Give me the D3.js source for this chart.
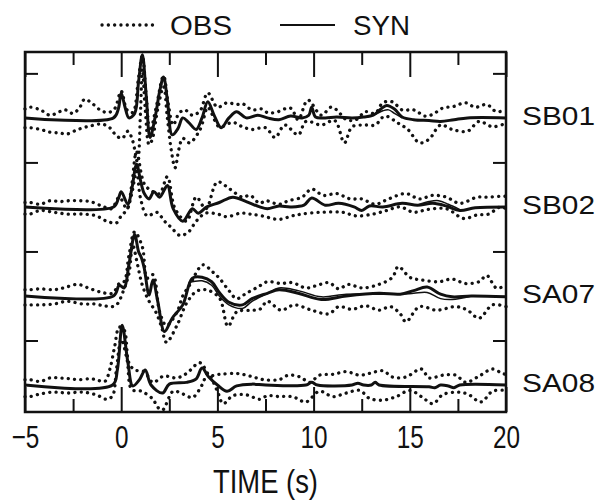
<!DOCTYPE html>
<meta charset="utf-8">
<title>OBS vs SYN waveforms</title>
<script src="https://d3js.org/d3.v7.min.js"></script>
<style>
  body { margin: 0; background: #fff; }
  text { font-family: "Liberation Sans", Arial, Helvetica, sans-serif; fill: #111; }
  .frame { fill: none; stroke: #111; stroke-width: 2.5; }
  .tick line { stroke: #111; stroke-width: 2; }
  .syn { fill: none; stroke: #111; stroke-width: 3; stroke-linejoin: round; }
  .alt { fill: none; stroke: #111; stroke-width: 1.5; }
  .obs { fill: none; stroke: #111; stroke-width: 3.3; stroke-linecap: round; stroke-dasharray: 0.1 6.2; }
</style>
<body>
<svg width="596" height="500"></svg>
<script>
// stations, top to bottom, and their trace offsets (10 units apart)
var stations = ["SB01", "SB02", "SA07", "SA08"];
var offsets = [30, 20, 10, 0];

var xMajor = [-5, 0, 5, 10, 15, 20];
var xMinor = [-2.5, 2.5, 7.5, 12.5, 17.5];
var yTicks = [5, 15, 25, 35];

// [time (s), amplitude] pairs
var sb01Syn = [[-5,0],[-0.4,0],[-0.15,1.0],[0,2.8],[0.2,1.2],[0.4,0],[0.7,0.5],[0.9,4.0],[1.1,7.1],[1.3,2.5],[1.5,-2.2],[1.8,0.5],[2.0,3.0],[2.2,4.6],[2.4,2.0],[2.65,-1.9],[2.95,-1.2],[3.2,0],[3.5,-0.5],[3.9,-1.3],[4.2,0],[4.5,1.8],[4.85,0.2],[5.2,-1.1],[5.6,0],[6.0,0.7],[6.5,0],[7.1,0.3],[7.6,0],[8.2,-0.2],[8.8,0.2],[9.4,0],[9.75,0.3],[9.9,1.2],[10.1,0.1],[10.6,0],[11.2,0.1],[12,0],[12.6,0.1],[13.1,0.3],[13.5,1.0],[13.8,1.4],[14.2,1.0],[14.6,0.1],[15.2,-0.2],[16.0,-0.3],[16.6,-0.4],[17.3,-0.2],[18.0,0],[20,0]];
var sb01Alt = [[12.8,0.1],[13.2,0.4],[13.6,0.8],[13.9,0.9],[14.2,0.5],[14.6,0]];
var sb01ObsHi = [[-5,1.0],[-4.75,1.2],[-4.2,0.9],[-3.7,0.3],[-3.2,0.7],[-2.9,0.9],[-2.5,0.5],[-2.15,1.2],[-1.9,2.1],[-1.5,1.6],[-1.1,0.9],[-0.7,0.6],[-0.35,1.0],[0,3.0],[0.3,0.9],[0.6,0.6],[0.9,4.5],[1.1,7.0],[1.3,2.5],[1.5,-1.5],[1.8,1.0],[2.2,4.7],[2.45,1.5],[2.7,-0.8],[3.0,0.5],[3.3,0.9],[3.7,0.3],[4.1,0.8],[4.5,2.8],[5.0,1.2],[5.5,1.7],[6.0,1.5],[6.3,1.6],[6.8,0.9],[7.3,1.0],[7.6,0.6],[8.0,0.6],[8.8,1.1],[9.2,-0.2],[9.7,2.0],[10.4,0.3],[10.9,1.2],[11.2,0.9],[11.7,-0.2],[12.2,-0.2],[12.7,0.7],[13.2,0.5],[13.6,1.7],[14.1,1.8],[14.6,0.9],[15.2,0.9],[15.8,0.2],[16.2,0.4],[16.7,1.1],[17.3,1.3],[17.9,1.7],[18.4,1.2],[19.0,1.5],[19.5,0.7],[20,0.9]];
var sb01ObsLo = [[-5,-1.1],[-4.75,-1.1],[-4.2,-1.3],[-3.7,-1.6],[-3.2,-1.7],[-2.8,-1.8],[-2.25,-1.3],[-1.6,-0.9],[-1.0,-0.7],[-0.6,-1.1],[-0.25,-2.0],[0.05,-2.3],[0.35,-1.5],[0.6,-2.6],[0.85,-5.0],[1.0,0.5],[1.1,5.5],[1.25,1.0],[1.45,-3.0],[1.6,-2.5],[1.9,1.0],[2.2,3.5],[2.4,0],[2.6,-3.6],[2.8,-5.6],[3.0,-3.5],[3.2,-2.3],[3.55,-2.8],[4.1,-1.3],[4.5,1.2],[4.7,0.5],[5.1,-1.0],[5.8,-0.5],[6.3,-1.0],[6.8,-1.3],[7.5,-1.1],[8.0,-2.2],[8.5,-0.8],[9.2,-1.9],[9.6,-0.4],[10.4,-0.8],[11.1,-0.3],[11.6,-2.8],[12.0,-1.0],[12.7,-0.8],[13.2,-0.8],[13.7,0.2],[14.4,-0.6],[14.9,-1.3],[15.5,-2.8],[16.0,-2.4],[16.6,-0.8],[17.2,-1.3],[18.0,-1.5],[18.6,-0.4],[19.3,-1.0],[20,-0.6]];

var sb02Syn = [[-5,0],[-0.4,0],[-0.15,0.9],[0,1.7],[0.35,0.3],[0.55,2.0],[0.8,4.8],[1.0,3.0],[1.2,1.5],[1.45,0.9],[1.7,1.7],[2.0,1.1],[2.4,2.4],[2.7,-0.2],[3.2,-1.6],[3.7,-0.2],[4.0,-0.7],[4.45,0],[5.1,0.5],[5.8,1.1],[6.5,0.6],[7.2,0],[7.6,-0.2],[8.2,0.1],[8.8,0],[9.5,0.2],[9.9,1.0],[10.6,0.2],[11.3,0.4],[12.1,0],[12.5,-0.4],[12.9,0.1],[13.6,0],[14.6,0.4],[15.4,0.2],[16.2,0.4],[16.9,0.1],[17.6,-0.4],[18.4,-0.1],[20,0]];
var sb02Alt = [[15.4,0.2],[16.0,0.6],[16.5,0.7],[17.0,0.3],[17.6,-0.3]];
var sb02ObsHi = [[-5,0.5],[-4.75,0.5],[-4.2,0.3],[-3.7,0.7],[-3.2,0.6],[-2.7,0.7],[-2.2,0.7],[-1.6,0.6],[-1.0,0.1],[-0.5,-0.2],[-0.1,1.1],[0.3,-0.2],[0.55,2.5],[0.8,6.2],[1.2,2.6],[1.65,1.7],[2.0,1.5],[2.4,3.4],[2.8,-0.2],[3.4,-1.6],[3.9,1.1],[4.4,-0.2],[5.0,2.8],[5.65,2.0],[6.3,1.1],[6.7,1.3],[7.2,0.4],[7.5,0.7],[8.2,0.3],[8.7,0.7],[9.4,1.1],[9.9,2.0],[10.5,1.3],[11.2,1.5],[11.9,0.9],[12.5,0.9],[13.2,0.3],[13.9,0.9],[14.8,1.5],[15.5,0.9],[16.2,1.3],[16.9,1.1],[17.6,0.4],[18.5,1.1],[19.1,1.1],[19.7,1.2],[20,1.2]];
var sb02ObsLo = [[-5,-0.8],[-4.75,-0.8],[-4.2,-0.4],[-3.5,-0.6],[-2.8,-0.8],[-2.0,-0.8],[-1.3,-1.0],[-0.75,-1.6],[-0.25,-1.8],[0,-1.0],[0.3,-0.3],[0.55,1.5],[0.8,4.0],[1.0,1.0],[1.35,-1.0],[1.85,-0.6],[2.25,-1.6],[2.6,-2.3],[3.05,-3.2],[3.5,-2.8],[3.9,-1.6],[4.4,-0.7],[5.0,-0.8],[5.5,-1.1],[6.2,-0.7],[6.7,-0.8],[7.3,-1.0],[8.2,-1.4],[8.9,-1.0],[9.4,-0.8],[10.4,-0.6],[11.5,-0.6],[12.2,-1.0],[13.1,-0.8],[13.8,-0.4],[14.5,0],[15.2,-0.6],[15.9,-0.3],[16.9,-0.2],[17.8,-1.3],[18.5,-0.9],[19.1,-0.8],[19.7,0],[20,-0.2]];

var sa07Syn = [[-5,0],[-0.4,0],[-0.1,1.2],[0.15,0.9],[0.4,3.5],[0.7,6.9],[0.9,5.0],[1.05,4.3],[1.2,3.1],[1.45,0.1],[1.65,1.8],[1.9,-0.6],[2.25,-4.0],[2.65,-2.5],[3.2,-1.0],[3.7,2.0],[4.2,2.1],[4.7,1.6],[5.1,0.4],[5.6,-0.7],[6.3,-1.0],[6.8,-0.3],[7.6,0.3],[8.2,0.7],[9.2,0.3],[10.4,-0.4],[11.7,0],[13.4,0.3],[14.5,0.2],[15.2,0.6],[15.9,1.0],[16.6,0.2],[17.2,-0.1],[18.2,0],[20,-0.1]];
var sa07Alt = [[3.5,1.5],[4.2,1.7],[4.7,1.2],[5.1,0.0],[5.6,-1.0],[6.3,-1.4],[6.8,-0.6],[7.6,0.3],[8.2,0.9],[9.2,0.6],[10.4,-0.1],[11.7,0.2],[13.4,0.2],[14.5,0.2],[15.2,0.3],[15.9,0.4],[16.6,-0.3],[17.2,-0.4],[18.2,0]];
var sa07ObsHi = [[-5,0.7],[-4.75,0.7],[-4.2,0.8],[-3.5,0.7],[-3.0,0.9],[-2.25,1.3],[-1.6,0.8],[-1.0,0.4],[-0.45,0.3],[-0.1,1.4],[0.15,1.6],[0.4,4.5],[0.7,7.2],[1.1,5.5],[1.35,2.0],[1.65,2.4],[2.0,-1.8],[2.35,-3.3],[2.9,-1.8],[3.2,0],[3.55,1.2],[4.25,3.5],[4.75,2.7],[5.1,2.0],[5.6,0.6],[6.0,-0.3],[6.5,0.3],[7.1,1.0],[7.6,1.6],[8.3,1.4],[8.9,1.5],[9.6,0.9],[10.2,1.2],[10.8,1.5],[11.3,0.8],[11.8,1.3],[12.5,0.9],[13.4,1.3],[14.1,2.1],[14.4,3.3],[15.0,2.1],[15.6,1.8],[16.5,1.6],[17.2,1.9],[17.9,1.4],[18.6,1.6],[19.0,2.3],[19.5,0.9],[20,1.2]];
var sa07ObsLo = [[-5,-1.0],[-4.75,-1.0],[-4.2,-1.0],[-3.5,-0.9],[-2.8,-0.6],[-2.0,-0.9],[-1.4,-0.9],[-0.9,-1.1],[-0.45,-1.2],[-0.2,-0.9],[0.1,0.5],[0.4,2.5],[0.6,5.7],[0.85,3.5],[1.1,1.2],[1.45,-0.6],[1.8,-1.8],[2.1,-3.5],[2.35,-5.2],[2.9,-3.3],[3.4,-0.8],[3.9,0.5],[4.4,0.7],[5.1,-0.2],[5.55,-3.4],[6.0,-1.8],[6.7,-1.6],[7.2,-1.5],[7.6,-0.6],[8.3,-1.6],[9.0,-1.0],[9.9,-1.6],[10.8,-2.0],[11.3,-1.2],[12.0,-1.5],[12.7,-1.1],[13.4,-1.6],[14.0,-1.2],[14.5,-2.0],[14.8,-2.9],[15.5,-1.2],[16.4,-1.6],[17.4,-1.2],[18.0,-1.6],[18.6,-2.5],[19.3,-1.0],[20,-1.2]];

var sa08Syn = [[-5,0],[-0.45,0],[-0.2,1.7],[0.05,6.7],[0.35,2.5],[0.6,-0.1],[0.95,0.6],[1.25,1.7],[1.55,0],[2.15,-0.9],[2.5,0.1],[3.4,0.3],[3.9,0.7],[4.2,1.9],[4.55,0.9],[5.0,0],[5.5,-0.7],[6.0,-0.1],[6.8,0.1],[7.5,0],[9.6,0],[9.9,0.3],[10.2,0],[12.0,0],[12.3,0.2],[12.6,0],[13.0,0],[13.2,0.3],[13.4,0],[16.0,-0.2],[16.3,-0.3],[16.6,0],[17.0,-0.1],[17.3,-0.3],[17.6,0],[20,0]];
var sa08Alt = [];
var sa08ObsHi = [[-5,0.6],[-4.75,0.6],[-4.2,0.4],[-3.7,0.8],[-3.2,0.8],[-2.7,0.7],[-2.2,0.6],[-1.6,0.7],[-1.3,0.6],[-0.85,0.4],[-0.6,1.7],[-0.35,4.2],[-0.1,6.5],[0.15,6.2],[0.4,2.5],[0.7,1.7],[1.2,1.5],[1.65,0.3],[2.2,1.0],[2.9,0.8],[3.4,1.3],[4.1,2.5],[4.6,1.1],[5.1,1.2],[6.0,1.3],[6.7,1.0],[7.4,0.6],[8.2,0.6],[8.7,1.1],[9.3,0.9],[9.8,0.3],[10.3,1.1],[11.0,1.2],[11.7,1.5],[12.4,1.1],[12.9,1.3],[13.6,1.6],[14.1,0.9],[14.8,0.9],[15.6,1.8],[16.0,0.8],[16.7,1.1],[17.4,1.1],[17.9,0.3],[18.6,1.0],[19.3,1.8],[19.8,1.3],[20,1.2]];
var sa08ObsLo = [[-5,-1.3],[-4.75,-1.3],[-4.2,-1.0],[-3.5,-0.8],[-2.8,-0.9],[-2.0,-0.8],[-1.3,-1.1],[-0.75,-1.6],[-0.45,-1.2],[-0.25,1.7],[0,5.1],[0.3,2.9],[0.55,-0.5],[1.05,-0.7],[1.65,-1.6],[1.9,-2.5],[2.15,-2.8],[2.7,-0.7],[3.2,-1.0],[3.7,-1.4],[4.2,0],[4.5,1.3],[5.0,-0.7],[5.3,-2.1],[5.8,-1.2],[6.5,-1.1],[7.2,-1.6],[7.6,-1.2],[8.2,-1.3],[8.9,-1.3],[9.6,-1.9],[10.3,-0.7],[11.0,-1.3],[11.7,-0.9],[12.4,-0.6],[12.9,-1.5],[13.6,-1.7],[14.3,-1.3],[15.0,-0.6],[15.6,-1.3],[16.2,-2.1],[16.7,-1.1],[17.4,-0.8],[18.0,-1.0],[18.7,-1.9],[19.3,-0.7],[20,-0.6]];

var synData = [sb01Syn, sb02Syn, sa07Syn, sa08Syn];
var altData = [sb01Alt, sb02Alt, sa07Alt, sa08Alt];
var obsHiData = [sb01ObsHi, sb02ObsHi, sa07ObsHi, sa08ObsHi];
var obsLoData = [sb01ObsLo, sb02ObsLo, sa07ObsLo, sa08ObsLo];

var svg = d3.select("svg"),
  plotL = 25, plotR = 506, plotT = 52, plotB = 412;

var x = d3.scaleLinear().domain([-5, 20]).range([plotL, plotR]);
var y = d3.scaleLinear().domain([-3.03, 37.4]).range([plotB, plotT]);

function noDomain(g) { g.select(".domain").remove(); }

// ticks: bottom (with labels), top, left, right
var xb = svg.append("g").attr("transform", "translate(0," + plotB + ")")
  .call(d3.axisBottom(x).tickValues(xMajor).tickSize(-25).tickPadding(13).tickFormat(d3.format("d")))
  .call(noDomain);
xb.attr("font-size", 32).attr("font-family", null);
xb.selectAll("text")
  .attr("transform", "scale(0.76,1)");
svg.append("g").attr("transform", "translate(0," + plotB + ")")
  .call(d3.axisBottom(x).tickValues(xMinor).tickSize(-13).tickFormat(""))
  .call(noDomain);
svg.append("g").attr("transform", "translate(0," + plotT + ")")
  .call(d3.axisTop(x).tickValues(xMajor).tickSize(-25).tickFormat(""))
  .call(noDomain);
svg.append("g").attr("transform", "translate(0," + plotT + ")")
  .call(d3.axisTop(x).tickValues(xMinor).tickSize(-13).tickFormat(""))
  .call(noDomain);
svg.append("g").attr("transform", "translate(" + plotL + ",0)")
  .call(d3.axisLeft(y).tickValues(yTicks).tickSize(-13).tickFormat(""))
  .call(noDomain);
svg.append("g").attr("transform", "translate(" + plotR + ",0)")
  .call(d3.axisRight(y).tickValues(yTicks).tickSize(-13).tickFormat(""))
  .call(noDomain);

svg.append("rect").attr("class", "frame")
  .attr("x", plotL).attr("y", plotT)
  .attr("width", plotR - plotL).attr("height", plotB - plotT);

// traces
stations.forEach(function (name, i) {
  var off = offsets[i];
  var line = d3.line()
    .x(function (d) { return x(d[0]); })
    .y(function (d) { return y(off + d[1]); })
    .curve(d3.curveCatmullRom.alpha(0.5));

  svg.append("path").attr("class", "obs").attr("d", line(obsHiData[i]));
  svg.append("path").attr("class", "obs").attr("d", line(obsLoData[i]));
  svg.append("path").attr("class", "syn").attr("d", line(synData[i]));
  if (altData[i].length) svg.append("path").attr("class", "alt").attr("d", line(altData[i]));

  svg.append("text")
    .attr("x", 522).attr("y", y(off) + 7)
    .attr("textLength", 73).attr("lengthAdjust", "spacingAndGlyphs")
    .style("font-size", "25px")
    .text(name);
});

// legend
svg.append("line").attr("class", "obs").attr("x1", 102).attr("x2", 156).attr("y1", 25).attr("y2", 25);
svg.append("text").attr("x", 170).attr("y", 35)
  .attr("textLength", 62).attr("lengthAdjust", "spacingAndGlyphs")
  .style("font-size", "27px").text("OBS");
svg.append("line").attr("class", "syn").attr("x1", 280).attr("x2", 335).attr("y1", 25).attr("y2", 25)
  .style("stroke-width", 2);
svg.append("text").attr("x", 353).attr("y", 35)
  .attr("textLength", 57).attr("lengthAdjust", "spacingAndGlyphs")
  .style("font-size", "27px").text("SYN");

// axis title
svg.append("text").attr("x", 213).attr("y", 493)
  .attr("textLength", 105).attr("lengthAdjust", "spacingAndGlyphs")
  .style("font-size", "34px").text("TIME (s)");
</script>
</body>
